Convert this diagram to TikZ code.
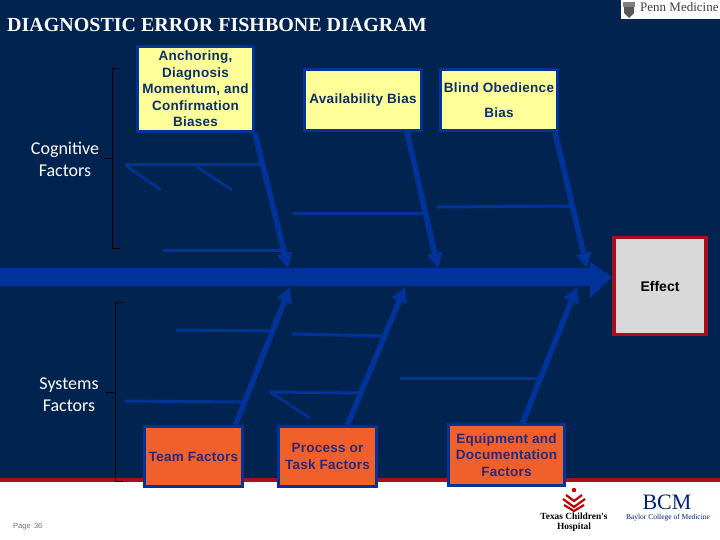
\documentclass[tikz,border=0pt]{standalone}
\usepackage{fontspec}
\setmainfont{Liberation Sans}
\newfontfamily\titlefont{Liberation Serif}
\newfontfamily\labelfont{Carlito}
\newfontfamily\boxfont[LetterSpace=2]{Liberation Sans Bold}
\usetikzlibrary{arrows.meta}
\definecolor{navybg}{HTML}{00234F}
\definecolor{bonecol}{HTML}{003399}
\definecolor{yellowbox}{HTML}{FFFF99}
\definecolor{orangebox}{HTML}{F15F2A}
\definecolor{effectred}{HTML}{A50F1F}
\definecolor{yellowtext}{HTML}{0B2F66}
\definecolor{orangetext}{HTML}{2A2A7C}
\tikzset{
    causebox/.style={draw=bonecol, line width=3pt, fill=yellowbox, text=yellowtext, font=\fontsize{13.5}{16.5}\selectfont\boxfont, align=center, inner sep=0pt},
    sysbox/.style={causebox, fill=orangebox, text=orangetext},
    bone/.style={draw=bonecol, line width=5.5pt, -{Triangle[width=15pt,length=15pt]}},
    thinbone/.style={draw=bonecol, line width=3pt},
    rib/.style={draw=bonecol, line width=2.5pt},
    groupline/.style={draw=black, line width=0.8pt},
    grouplabel/.style={text=white, font=\fontsize{18}{22}\selectfont\labelfont, align=center}
}
\begin{document}
\begin{tikzpicture}[x=1pt,y=-1pt]
    \useasboundingbox (0,0) rectangle (720,540);
    \fill[white] (0,0) rectangle (720,540);
    \fill[navybg] (0,0) rectangle (720,479);
    \fill[effectred] (0,478) rectangle (720,482);

    \node[anchor=west, text=white, font=\fontsize{20}{22}\selectfont\titlefont\bfseries, inner sep=0pt] (title) at (7,25) {DIAGNOSTIC ERROR FISHBONE DIAGRAM};

    \fill[bonecol] (0,268) -- (590,268) -- (590,262) -- (612,277) -- (590,298) -- (590,286) -- (0,286) -- cycle;

    \coordinate (tip1) at (288,268);
    \coordinate (tip2) at (438,268);
    \coordinate (tip3) at (587,268);
    \coordinate (tip4) at (290,287);
    \coordinate (tip5) at (405,287);
    \coordinate (tip6) at (577,287);

    \node[causebox, minimum width=116pt, minimum height=85pt] (anchoring) at (195.5,89) {Anchoring,\\Diagnosis\\Momentum, and\\Confirmation\\Biases};
    \node[causebox, minimum width=117pt, minimum height=61pt] (avail) at (363,100) {Availability Bias};
    \node[causebox, minimum width=117pt, minimum height=61pt, font=\fontsize{13.5}{13}\selectfont\boxfont] (blind) at (499,100) {Blind Obedience\\[12pt]Bias};
    \node[draw=effectred, line width=3.5pt, fill=black!15, minimum width=92pt, minimum height=97pt, inner sep=0pt, font=\fontsize{14}{15}\selectfont\bfseries, text=black] (effect) at (660,286) {Effect};
    \node[sysbox, minimum width=98pt, minimum height=60pt] (team) at (193.5,456.5) {Team Factors};
    \node[sysbox, minimum width=98pt, minimum height=60pt] (process) at (327.5,456.5) {Process or\\Task Factors};
    \node[sysbox, minimum width=116pt, minimum height=61pt] (equip) at (506.5,455) {Equipment and\\Documentation\\Factors};

    \draw[bone] (anchoring.south east) -- (tip1);
    \draw[bone] ([xshift=44pt]avail.south) -- (tip2);
    \draw[bone] ([xshift=56pt]blind.south) -- (tip3);
    \draw[bone] ([xshift=42pt]team.north) -- (tip4);
    \draw[bone] ([xshift=20pt]process.north) -- (tip5);
    \draw[bone] ([xshift=16pt]equip.north) -- (tip6);

    \draw[thinbone] (125,165) -- (260,165);
    \draw[rib] (125,165) -- (161,190);
    \draw[rib] (197,167) -- (232,190);
    \draw[thinbone] (163,250) -- (283,250);
    \draw[thinbone] (293,214) -- (423,214);
    \draw[thinbone] (437,207) -- (570,206);
    \draw[thinbone] (176,330) -- (272,331);
    \draw[thinbone] (292,334) -- (384,336);
    \draw[thinbone] (125,401) -- (242,402);
    \draw[thinbone] (270,392) -- (363,393);
    \draw[rib] (270,392) -- (310,418);
    \draw[thinbone] (400,378) -- (537,378);

    \node[grouplabel] (cognitive) at (65,159) {Cognitive\\Factors};
    \node[grouplabel] (systems) at (69,395) {Systems\\Factors};
    \draw[groupline] (120,68) -- (112,68) -- (112,248) -- (120,248);
    \draw[groupline] (103,158) -- (112,158);
    \draw[groupline] (123,302) -- (115,302) -- (115,481) -- (123,481);
    \draw[groupline] (106,392) -- (115,392);

    \node[anchor=west, inner sep=0pt, text=black!55, font=\fontsize{7.5}{8}\selectfont] (page) at (13,527) {Page \,36};

    \fill[white] (621,0) rectangle (720,19);
    \fill[black!50] (623,2) rectangle (635,7);
    \fill[black!65] (624,7) -- (634,7) -- (634,13) -- (629,18) -- (624,13) -- cycle;
    \node[anchor=west, inner sep=0pt, text=black!75, font=\fontsize{13}{14}\selectfont\titlefont] (penn) at (640,7.5) {Penn Medicine};

    \fill[red!75!black] (574,490) circle (2.2pt);
    \draw[red!75!black, line width=2.2pt] (566,495) -- (574,501) -- (582,495);
    \draw[red!75!black, line width=2.2pt] (563,499) -- (574,507) -- (585,499);
    \draw[red!75!black, line width=2.2pt] (564,505) -- (574,511) -- (584,505);
    \node[inner sep=0pt, text=black, align=center, font=\fontsize{9.4}{10.5}\selectfont\titlefont\bfseries] (texas) at (574,522) {Texas Children's\\Hospital};

    \node[inner sep=0pt, text=bonecol!70!black, font=\fontsize{22}{22}\selectfont\titlefont] (bcm) at (667,502) {BCM};
    \node[inner sep=0pt, text=bonecol!70!black, font=\fontsize{7.5}{8}\selectfont\titlefont] (baylor) at (668,518) {Baylor College of Medicine};
\end{tikzpicture}
\end{document}
